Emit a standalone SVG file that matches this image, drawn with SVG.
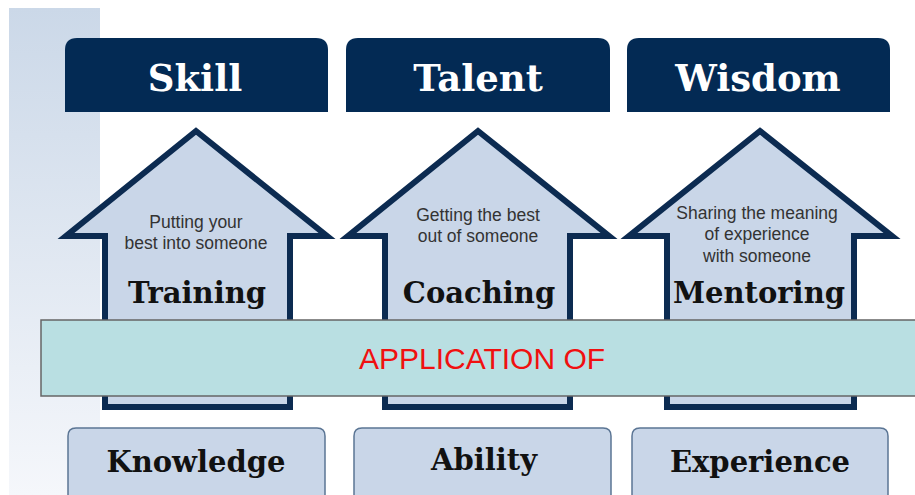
<svg xmlns="http://www.w3.org/2000/svg" width="915" height="495" viewBox="0 0 915 495">
<defs>
<linearGradient id="strip" x1="0" y1="0" x2="0" y2="1">
<stop offset="0" stop-color="#cbd8e8"/>
<stop offset="1" stop-color="#f5f7fb"/>
</linearGradient>
</defs>
<style>
.hdr{fill:#032a54}
.htxt{font-family:"DejaVu Serif","Liberation Serif",serif;font-weight:bold;font-size:37px;fill:#fff;text-anchor:middle}
.arrow{fill:#c9d6e8;stroke:#0c2b51;stroke-width:6;stroke-linejoin:miter}
.sub{font-family:"Liberation Sans",Arial,sans-serif;font-size:17.5px;fill:#333;text-anchor:middle}
.big{font-family:"DejaVu Serif","Liberation Serif",serif;font-weight:bold;font-size:29px;fill:#111;text-anchor:middle}
.band{fill:#b9dfe2;stroke:#666;stroke-width:1.5}
.btxt{font-family:"Liberation Sans",Arial,sans-serif;font-size:30px;fill:#f01010;text-anchor:middle}
.base{fill:#c9d6e8;stroke:#5b7594;stroke-width:1.5}
</style>
<rect x="9" y="8" width="91" height="487" fill="url(#strip)"/>
<g id="skill"><path class="hdr" d="M65,112 V50 Q65,38 77,38 H316 Q328,38 328,50 V112 Z"/><text class="htxt" x="195" y="91">Skill</text></g>
<g id="talent"><path class="hdr" d="M346,112 V50 Q346,38 358,38 H598 Q610,38 610,50 V112 Z"/><text class="htxt" x="478" y="91">Talent</text></g>
<g id="wisdom"><path class="hdr" d="M627,112 V50 Q627,38 639,38 H878 Q890,38 890,50 V112 Z"/><text class="htxt" x="758" y="91">Wisdom</text></g>
<g id="training"><path class="arrow" d="M196,131 L66,236 H105 V407 H290 V236 L327,236 Z"/><text class="sub" x="196" y="228">Putting your</text><text class="sub" x="196" y="249">best into someone</text><text class="big" x="197" y="303">Training</text></g>
<g id="coaching"><path class="arrow" d="M478,131 L348,236 H385 V407 H570 V236 L609,236 Z"/><text class="sub" x="478" y="221">Getting the best</text><text class="sub" x="478" y="242">out of someone</text><text class="big" x="479" y="303">Coaching</text></g>
<g id="mentoring"><path class="arrow" d="M760,131 L629,236 H667 V407 H854 V236 L892,236 Z"/><text class="sub" x="757" y="219">Sharing the meaning</text><text class="sub" x="757" y="240">of experience</text><text class="sub" x="757" y="262">with someone</text><text class="big" x="759" y="303">Mentoring</text></g>
<g id="application"><rect class="band" x="41" y="320" width="880" height="76"/><text class="btxt" x="482" y="369">APPLICATION OF</text></g>
<g id="knowledge"><path class="base" d="M68,500 V436 Q68,428 76,428 H317 Q325,428 325,436 V500"/><text class="big" x="196" y="472">Knowledge</text></g>
<g id="ability"><path class="base" d="M354,500 V436 Q354,428 362,428 H603 Q611,428 611,436 V500"/><text class="big" x="484" y="470">Ability</text></g>
<g id="experience"><path class="base" d="M632,500 V436 Q632,428 640,428 H880 Q888,428 888,436 V500"/><text class="big" x="760" y="472">Experience</text></g>
<g id="connectors"/>
</svg>
